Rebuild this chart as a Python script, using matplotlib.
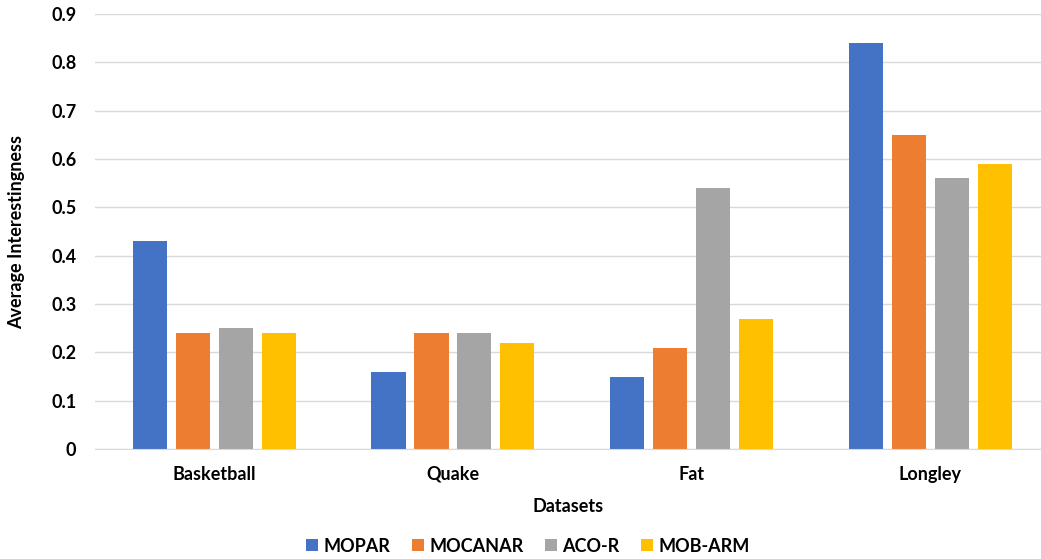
import numpy as np
import matplotlib
matplotlib.use("Agg")
import matplotlib.pyplot as plt
from matplotlib.patches import Patch

plt.rcParams["font.family"] = ["Lato", "DejaVu Sans"]
plt.rcParams["font.weight"] = "bold"

datasets = ["Basketball", "Quake", "Fat", "Longley"]
methods = ["MOPAR", "MOCANAR", "ACO-R", "MOB-ARM"]
mopar = [0.43, 0.16, 0.15, 0.84]
mocanar = [0.24, 0.24, 0.21, 0.65]
aco_r = [0.25, 0.24, 0.54, 0.56]
mob_arm = [0.24, 0.22, 0.27, 0.59]
colors = ["#4472C4", "#ED7D31", "#A5A5A5", "#FFC000"]

W, H = 1041, 559
FS = 13
fig = plt.figure(figsize=(W / 100, H / 100), dpi=100)
ax = fig.add_axes([95 / W, (H - 449) / H, (W - 95) / W, 435 / H])

x = np.arange(len(datasets))
step = 0.18
width = 0.143
series = [mopar, mocanar, aco_r, mob_arm]
for k, (vals, c) in enumerate(zip(series, colors)):
    ax.bar(x + (k - 1.5) * step, vals, width, color=c, zorder=3)

ax.set_xlim(-0.5, (W - 214) / 238.7)
ax.set_ylim(0, 0.9)
ax.set_yticks(np.arange(0, 0.91, 0.1))
ax.set_yticklabels(["0"] + [f"{v:.1f}" for v in np.arange(0.1, 0.91, 0.1)])
ax.set_xticks(x)
ax.set_xticklabels(datasets)
ax.tick_params(length=0, labelsize=FS)
ax.tick_params(axis="x", pad=12)
ax.tick_params(axis="y", pad=13.5)
ax.grid(axis="y", color="#D9D9D9", linewidth=1, zorder=0)
for s in ["top", "right", "left"]:
    ax.spines[s].set_visible(False)
ax.spines["bottom"].set_color("#D9D9D9")
ax.spines["bottom"].set_zorder(4)

ax.set_xlabel("Datasets", fontsize=FS, fontweight="bold", labelpad=11)
fig.text(17 / W, 1 - 232 / H, "Average Interestingness", rotation=90,
         ha="center", va="center", fontsize=FS, fontweight="bold")

handles = [Patch(facecolor=c) for c in colors]
fig.legend(handles, methods, loc="center", bbox_to_anchor=(528 / W, 1 - 546 / H),
           ncol=4, frameon=False, fontsize=FS, handlelength=0.65, handleheight=0.65,
           handletextpad=0.3, columnspacing=1.2)

fig.savefig("out.png", dpi=100)
